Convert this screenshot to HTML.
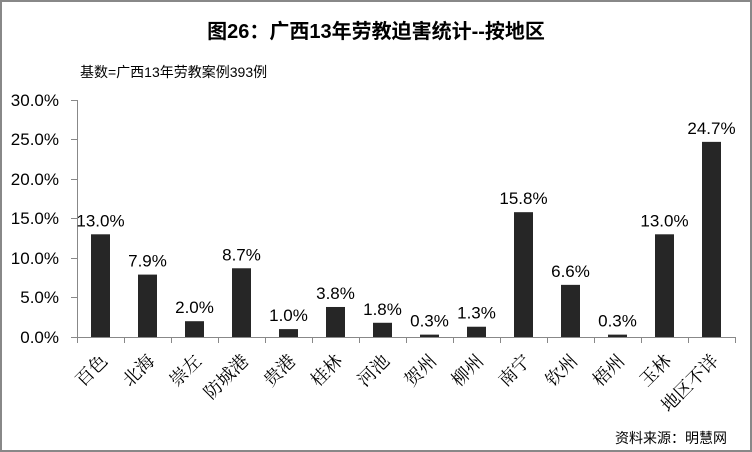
<!DOCTYPE html>
<html><head><meta charset="utf-8"><style>
body{margin:0;background:#fff}
svg{display:block}
.t{font-family:"Liberation Sans","Noto Sans CJK SC",sans-serif}
.s{font-family:"Liberation Serif","Noto Serif CJK SC",serif}
</style></head><body>
<svg width="752" height="452" viewBox="0 0 752 452">
<rect x="1" y="1" width="750" height="450" fill="#fff" stroke="#888" stroke-width="2"/>
<text class="t" x="376" y="38" text-anchor="middle" font-size="20" font-weight="bold" fill="#000">图26：广西13年劳教迫害统计--按地区</text>
<text class="t" x="80" y="77" font-size="14" fill="#000">基数=广西13年劳教案例393例</text>
<g class="t" font-size="17" fill="#000" text-anchor="end">
<text x="59" y="106">30.0%</text><text x="59" y="145">25.0%</text><text x="59" y="185">20.0%</text>
<text x="59" y="224">15.0%</text><text x="59" y="264">10.0%</text><text x="59" y="303">5.0%</text><text x="59" y="343">0.0%</text>
</g>
<g stroke="#888" stroke-width="1">
<line x1="77.5" y1="100" x2="77.5" y2="337"/>
<line x1="77" y1="337.5" x2="735" y2="337.5"/>
<line x1="71" y1="100.5" x2="77" y2="100.5"/><line x1="71" y1="139.5" x2="77" y2="139.5"/><line x1="71" y1="179.5" x2="77" y2="179.5"/>
<line x1="71" y1="218.5" x2="77" y2="218.5"/><line x1="71" y1="258.5" x2="77" y2="258.5"/><line x1="71" y1="297.5" x2="77" y2="297.5"/><line x1="71" y1="337.5" x2="77" y2="337.5"/>
</g>
<g id="bars"></g>
<text class="t" x="727" y="443" font-size="14" text-anchor="end" fill="#000">资料来源：明慧网</text>
</svg>
<script>
var v=[13.0,7.9,2.0,8.7,1.0,3.8,1.8,0.3,1.3,15.8,6.6,0.3,13.0,24.7];
var n=["百色","北海","崇左","防城港","贵港","桂林","河池","贺州","柳州","南宁","钦州","梧州","玉林","地区不详"];
var g=document.getElementById("bars"),h="";
for(var i=0;i<14;i++){var x0=77+i*47,c=x0+23.5,hh=v[i]*7.9,y=337-hh;
h+='<rect x="'+(c-9.5)+'" y="'+y+'" width="19" height="'+hh+'" fill="#262626"/>';
h+='<line x1="'+(x0+47.5)+'" y1="337" x2="'+(x0+47.5)+'" y2="343" stroke="#888"/>';
h+='<text class="t" x="'+c+'" y="'+(y-8)+'" font-size="17" text-anchor="middle">'+v[i].toFixed(1)+'%</text>';
h+='<text class="s" transform="translate('+(c+8)+',362) rotate(-45)" font-size="18" text-anchor="end">'+n[i]+'</text>';}
h+='<line x1="77.5" y1="337" x2="77.5" y2="343" stroke="#888"/>';
g.innerHTML=h;
</script>
</body></html>
